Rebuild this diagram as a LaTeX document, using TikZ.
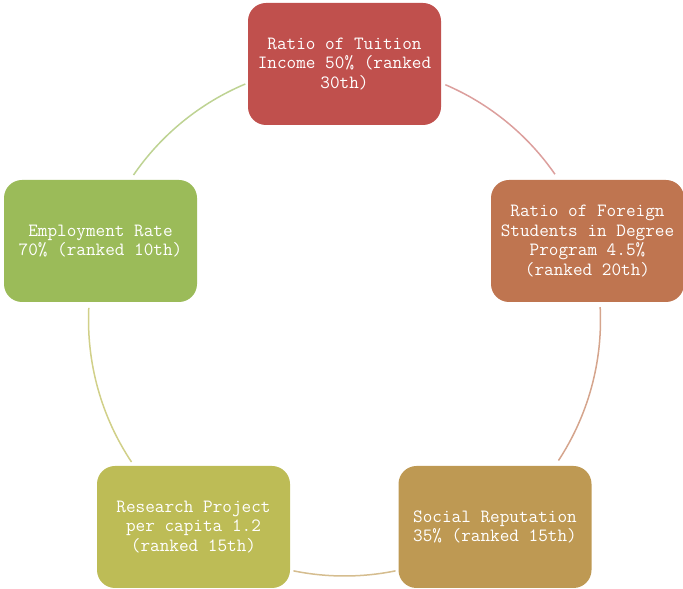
\documentclass[tikz,border=0pt]{standalone}
\definecolor{cA}{RGB}{192,80,77}
\definecolor{cB}{RGB}{191,117,80}
\definecolor{cC}{RGB}{190,153,83}
\definecolor{cD}{RGB}{189,188,86}
\definecolor{cE}{RGB}{155,187,89}
\begin{document}
\begin{tikzpicture}[x=1pt,y=1pt,
  box/.style={rounded corners=18pt, minimum width=193pt, minimum height=122pt,
    inner sep=0pt, align=center, text=white,
    font=\ttfamily\fontsize{18.7}{19.5}\selectfont},
  ring/.style={line width=1.5pt}]
\useasboundingbox (0,0) rectangle (683,589);
\coordinate (ctr) at (344.5,269);
\def\R{256}
\node[box, fill=cA] (top) at (344.5,525) {Ratio of Tuition\\Income 50\% (ranked\\30th)};
\node[box, fill=cB] (right) at (587.5,348) {Ratio of Foreign\\Students in Degree\\Program 4.5\%\\(ranked 20th)};
\node[box, fill=cC] (br) at (495,62) {Social Reputation\\35\% (ranked 15th)};
\node[box, fill=cD] (bl) at (193.5,62) {Research Project\\per capita 1.2\\(ranked 15th)};
\node[box, fill=cE] (left) at (100.5,348) {Employment Rate\\70\% (ranked 10th)};
\draw[ring, cA!55!white] ([shift={(66.8:\R)}]ctr) arc[start angle=66.8, end angle=34.7, radius=\R];
\draw[ring, cB!65!white] ([shift={(2.9:\R)}]ctr) arc[start angle=2.9, end angle=-33.3, radius=\R];
\draw[ring, cC!65!white] ([shift={(-78.5:\R)}]ctr) arc[start angle=-78.5, end angle=-101.5, radius=\R];
\draw[ring, cD!70!white] ([shift={(-146.3:\R)}]ctr) arc[start angle=-146.3, end angle=-182.7, radius=\R];
\draw[ring, cE!65!white] ([shift={(145.5:\R)}]ctr) arc[start angle=145.5, end angle=112.8, radius=\R];
\end{tikzpicture}
\end{document}
